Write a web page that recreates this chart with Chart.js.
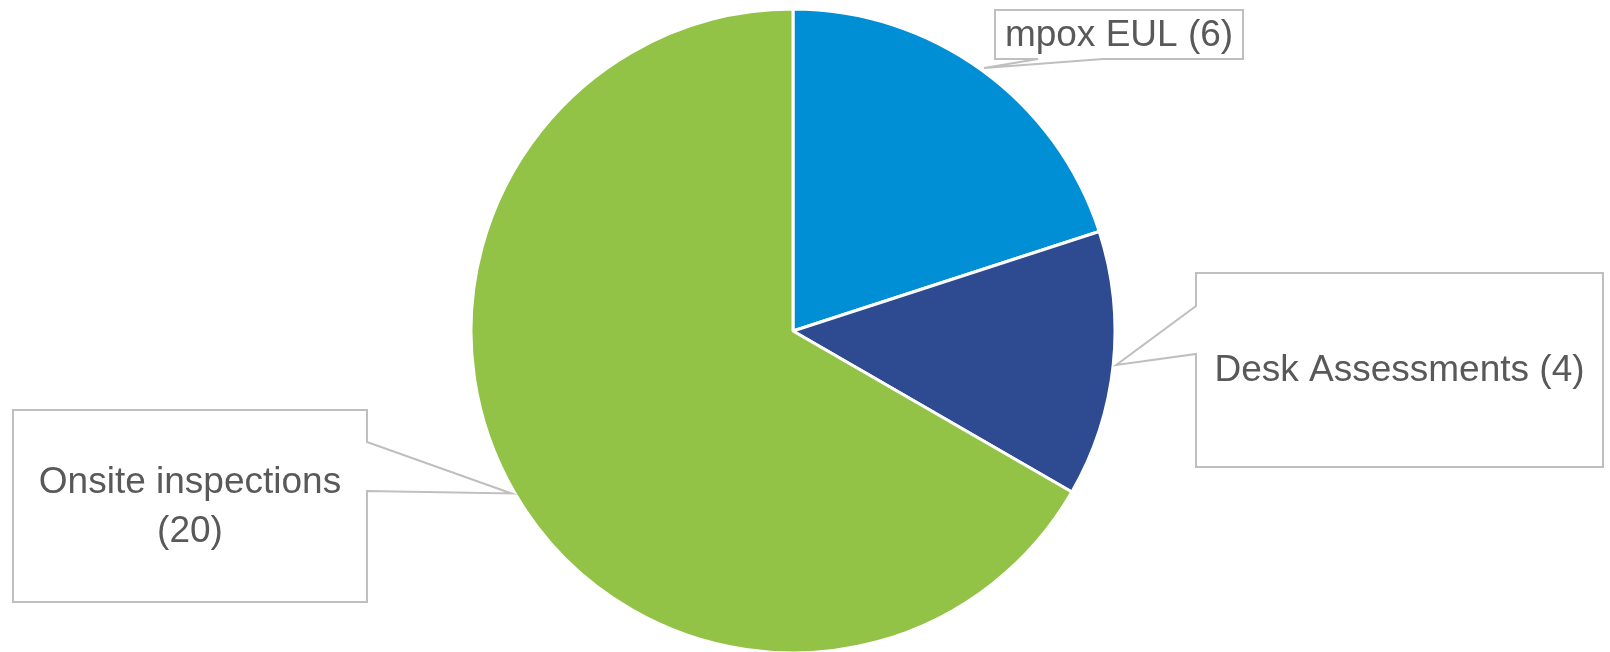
<!DOCTYPE html>
<html>
<head>
<meta charset="utf-8">
<script src="https://cdn.jsdelivr.net/npm/chart.js@4"></script>
<style>
  html, body { margin: 0; padding: 0; background: #ffffff; }
  #wrap { width: 1610px; height: 652px; }
</style>
</head>
<body>
<div id="wrap"><canvas id="c" width="1610" height="652"></canvas></div>
<script>
// ---- data ----
const categories = ["mpox EUL", "Desk Assessments", "Onsite inspections"];
const values = [6, 4, 20];
const sliceColors = ["#008FD5", "#2E4B91", "#92C347"];

// ---- callout box layout (annotation placement, not data) ----
const calloutBoxes = [
  { x: 995,  y: 10,  w: 248, h: 49,  side: "bottom", a: 1103, b: 1038 },
  { x: 1196, y: 273, w: 407, h: 194, side: "left",   a: 306,  b: 354 },
  { x: 13,   y: 410, w: 354, h: 192, side: "right",  a: 491,  b: 442 }
];

const FONT_SIZE = 37;
const FONT = FONT_SIZE + 'px "Liberation Sans", Arial, sans-serif';
const LINE_H = 49;

function wrapText(ctx, text, maxW) {
  const words = text.split(" ");
  const lines = [];
  let cur = "";
  for (const w of words) {
    const t = cur ? cur + " " + w : w;
    if (ctx.measureText(t).width > maxW && cur) { lines.push(cur); cur = w; }
    else cur = t;
  }
  if (cur) lines.push(cur);
  return lines;
}

const calloutPlugin = {
  id: "callouts",
  afterDraw(chart) {
    const ctx = chart.ctx;
    const meta = chart.getDatasetMeta(0);
    ctx.save();
    meta.data.forEach((arc, i) => {
      const p = arc.getProps(["x", "y", "startAngle", "endAngle", "outerRadius"], true);
      const mid = (p.startAngle + p.endAngle) / 2;
      const r = p.outerRadius + 3;
      const tx = p.x + Math.cos(mid) * r;
      const ty = p.y + Math.sin(mid) * r;
      const b = calloutBoxes[i];
      const L = b.x, T = b.y, R = b.x + b.w, B = b.y + b.h;

      ctx.beginPath();
      ctx.moveTo(L, T);
      ctx.lineTo(R, T);
      if (b.side === "right") {
        ctx.lineTo(R, b.b); ctx.lineTo(tx, ty); ctx.lineTo(R, b.a);
      }
      ctx.lineTo(R, B);
      if (b.side === "bottom") {
        ctx.lineTo(b.a, B); ctx.lineTo(tx, ty); ctx.lineTo(b.b, B);
      }
      ctx.lineTo(L, B);
      if (b.side === "left") {
        ctx.lineTo(L, b.b); ctx.lineTo(tx, ty); ctx.lineTo(L, b.a);
      }
      ctx.closePath();
      ctx.fillStyle = "#ffffff";
      ctx.fill();
      ctx.lineWidth = 2;
      ctx.strokeStyle = "#BFBFBF";
      ctx.lineJoin = "miter";
      ctx.stroke();

      ctx.font = FONT;
      ctx.fillStyle = "#595959";
      ctx.textAlign = "center";
      ctx.textBaseline = "middle";
      const label = categories[i] + " (" + values[i] + ")";
      const lines = wrapText(ctx, label, b.w - 12);
      const cx = L + b.w / 2;
      const cy = T + b.h / 2 + 1;
      const startY = cy - (lines.length - 1) * LINE_H / 2;
      lines.forEach((ln, k) => ctx.fillText(ln, cx, startY + k * LINE_H));
    });
    ctx.restore();
  }
};

new Chart(document.getElementById("c"), {
  type: "pie",
  data: {
    labels: categories,
    datasets: [{
      data: values,
      backgroundColor: sliceColors,
      borderColor: "#ffffff",
      borderWidth: 3
    }]
  },
  options: {
    responsive: false,
    animation: false,
    devicePixelRatio: 1,
    radius: 322,
    layout: { padding: { left: 0, right: 24, top: 10, bottom: 0 } },
    plugins: {
      legend: { display: false },
      tooltip: { enabled: false }
    }
  },
  plugins: [calloutPlugin]
});
</script>
</body>
</html>
